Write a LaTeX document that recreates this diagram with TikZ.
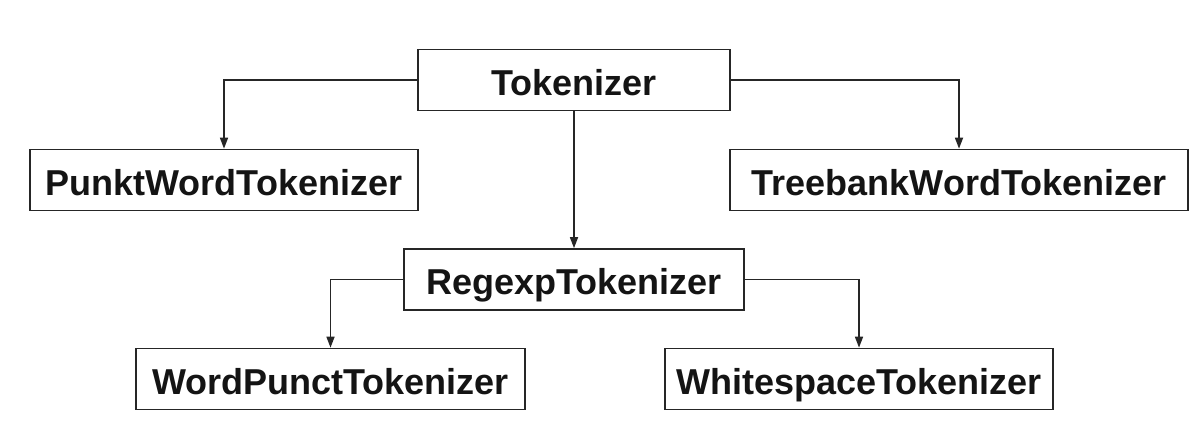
\documentclass[tikz,border=0pt]{standalone}
\usepackage{fontspec}
\setmainfont{Liberation Sans}
\usetikzlibrary{arrows.meta}
\begin{document}
\begin{tikzpicture}[x=1pt,y=-1pt,
  box/.style={draw=black!85, line width=1.7pt, fill=white, rectangle,
    inner sep=0pt, minimum height=61pt, text height=30pt, text depth=0pt,
    font=\fontsize{36}{40}\selectfont\bfseries, text=black!92},
  link/.style={draw=black!85, line width=1.6pt,
    -{Triangle[length=11pt,width=8pt]}}]
  \useasboundingbox[fill=white] (0,0) rectangle (1198,445);
  % class nodes
  \node[box, minimum width=312pt] (tok)   at (574,80)    {Tokenizer};
  \node[box, minimum width=388pt] (punkt) at (224,180)   {PunktWordTokenizer};
  \node[box, minimum width=458pt] (tree)  at (959,180)   {TreebankWordTokenizer};
  \node[box, minimum width=340pt] (reg)   at (574,279.5) {RegexpTokenizer};
  \node[box, minimum width=389pt] (wp)    at (330.5,379) {WordPunctTokenizer};
  \node[box, minimum width=388pt] (ws)    at (859,379)   {WhitespaceTokenizer};
  % inheritance links
  \draw[link] (tok.west) -| (punkt.north);
  \draw[link] (tok.east) -| (tree.north);
  \draw[link] (tok.south) -- (reg.north);
  \draw[link] (reg.west) -| (wp.north);
  \draw[link] (reg.east) -| (ws.north);
\end{tikzpicture}
\end{document}
